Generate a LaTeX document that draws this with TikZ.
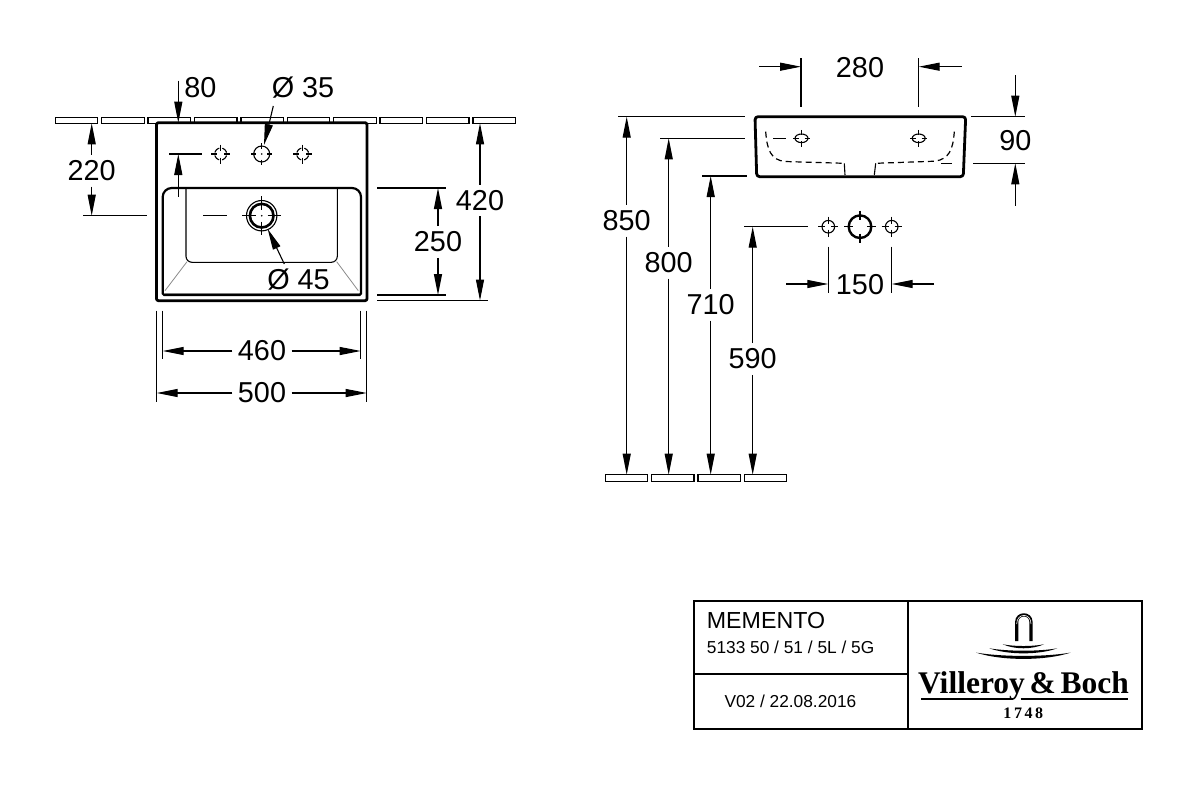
\documentclass[tikz,border=0pt]{standalone}
\usepackage{fontspec}
\setmainfont{Liberation Sans}
\newfontfamily\logofont[WordSpace=0.6]{Liberation Serif}
\newfontfamily\yearfont[LetterSpace=16]{Liberation Serif}
\usetikzlibrary{arrows.meta}
\newcommand{\dimfont}{\fontsize{28.8}{30}\selectfont}

\tikzset{
	thinline/.style={line width=1.1pt},
	thickline/.style={line width=2.8pt, line join=round},
	rimline/.style={line width=2.2pt},
	greyline/.style={line width=0.8pt, black!45},
	dashline/.style={line width=1.2pt, dash pattern=on 6pt off 4pt},
	tile/.style={line width=1.3pt, fill=white},
	dimarrow/.style={line width=1.1pt, -{Triangle[length=21pt,width=8pt]}},
	dimlabel/.style={inner sep=5.5pt, font=\dimfont},
	titletext/.style={anchor=west, inner sep=0pt, font=\fontsize{17.3}{19}\selectfont},
	pics/crossmark/.style n args={2}{code={
		\draw[thinline] (-#2,0) -- (-#1,0) (#1,0) -- (#2,0) (0,-#2) -- (0,-#1) (0,#1) -- (0,#2);
	}},
}

\begin{document}
\begin{tikzpicture}[x=1pt,y=-1pt]
	\useasboundingbox (0,0) rectangle (1200,787);

	% wall above the basin
	\draw[tile] (55.3,117.3) rectangle (97.8,123.3);
	\draw[tile] (101.7,117.3) rectangle (144.2,123.3);
	\draw[tile] (148.1,117.3) rectangle (190.6,123.3);
	\draw[tile] (194.5,117.3) rectangle (237,123.3);
	\draw[tile] (240.9,117.3) rectangle (283.4,123.3);
	\draw[tile] (287.3,117.3) rectangle (329.8,123.3);
	\draw[tile] (333.7,117.3) rectangle (376.2,123.3);
	\draw[tile] (380.1,117.3) rectangle (422.6,123.3);
	\draw[tile] (426.5,117.3) rectangle (469,123.3);
	\draw[tile] (472.9,117.3) rectangle (515.4,123.3);

	% basin seen from above
	\draw[thickline, fill=white, rounded corners=2pt] (156.5,122.7) rectangle (367,300.7);
	\draw[greyline] (165,293) -- (358.5,293);
	\draw[greyline] (187,261.7) -- (165,290.7);
	\draw[greyline] (336.7,261.7) -- (358.3,290.7);
	\draw[rimline] (162.7,295) [rounded corners=1.5pt] -- (361,295) [rounded corners=9pt] -- (361,188) -- (162.7,188) [rounded corners=1.5pt] -- cycle;
	\draw[thinline, rounded corners=6pt] (186,189) -- (186,262.3) -- (337.3,262.3) -- (337.3,189);

	\draw[thinline, dash pattern=on 6.4pt off 3pt, dash phase=7.9pt] (220.7,154) circle[radius=6];
	\pic at (220.7,154) {crossmark={3.5}{9.5}};
	\draw[thinline] (261.7,154) circle[radius=8];
	\pic at (261.7,154) {crossmark={5.5}{10.7}};
	\fill (261.7,154) circle[radius=0.9];
	\draw[thinline, dash pattern=on 6.4pt off 3pt, dash phase=7.9pt] (302.7,154) circle[radius=6];
	\pic at (302.7,154) {crossmark={3.5}{9.5}};

	\draw[thinline] (261.7,215.7) circle[radius=15.2];
	\draw[line width=2.6pt] (261.7,215.7) circle[radius=11.8];
	\pic at (261.7,215.7) {crossmark={6}{19.5}};
	\fill (261.7,215.7) circle[radius=0.9];

	% side of the basin
	\draw[thickline, rounded corners=3pt] (755,116.7) -- (965.7,116.7) -- (963.3,176.7) -- (756.7,176.7) -- cycle;
	\draw[dashline] (765.7,131.7) .. controls (767,150) and (771,160) .. (785,161.5) -- (844.3,163.3);
	\draw[dashline] (954.3,131.7) .. controls (953,150) and (949,159) .. (935,161.2) -- (875.7,163.3);
	\draw[thinline] (844.3,163.3) -- (845,175);
	\draw[thinline] (875.7,163.3) -- (874.3,175);
	\draw[thinline] (773,138.3) -- (786,138.3);
	\draw[thinline] (941,163.3) -- (952.3,163.3);
	\draw[thinline] (801.5,138.3) ellipse[x radius=6.5, y radius=4.3];
	\pic at (801.5,138.3) {crossmark={3}{8.5}};
	\draw[thinline] (918.7,138.3) ellipse[x radius=6.5, y radius=4.3];
	\pic at (918.7,138.3) {crossmark={3}{8.5}};

	% holes in the wall
	\draw[thinline] (828.3,226.7) circle[radius=6.3];
	\pic at (828.3,226.7) {crossmark={3}{10}};
	\draw[line width=2.4pt] (860,226.7) circle[radius=11.3];
	\pic at (860,226.7) {crossmark={7}{16}};
	\draw[thinline] (891.7,226.7) circle[radius=6.3];
	\pic at (891.7,226.7) {crossmark={3}{10}};

	% floor
	\draw[tile] (605.7,474.7) rectangle (647.7,481.3);
	\draw[tile] (651.7,474.7) rectangle (694,481.3);
	\draw[tile] (698,474.7) rectangle (740.3,481.3);
	\draw[tile] (744.3,474.7) rectangle (786.7,481.3);

	% extension lines
	\draw[thinline] (169.3,154) -- (201.7,154);
	\draw[thinline] (203.3,215.7) -- (226.7,215.7);
	\draw[thinline] (83.3,215.7) -- (146.7,215.7);
	\draw[thinline] (377,188) -- (446,188);
	\draw[thinline] (377,295) -- (446,295);
	\draw[thinline] (377,300.5) -- (488,300.5);
	\draw[thinline] (156.7,310.7) -- (156.7,401.7);
	\draw[thinline] (366.7,310.7) -- (366.7,401.7);
	\draw[thinline] (162.7,310.7) -- (162.7,359.3);
	\draw[thinline] (360.7,310.7) -- (360.7,359.3);
	\draw[thinline] (618.3,116.7) -- (745,116.7);
	\draw[thinline] (660,138.3) -- (745,138.3);
	\draw[thinline] (702,176) -- (746.7,176);
	\draw[thinline] (744,226.7) -- (808,226.7);
	\draw[thinline] (801,58.3) -- (801,106.7);
	\draw[thinline] (918.7,58.3) -- (918.7,106.7);
	\draw[thinline] (971,116.7) -- (1025,116.7);
	\draw[thinline] (973.3,163.3) -- (1025,163.3);
	\draw[thinline] (828.3,246.7) -- (828.3,292.7);
	\draw[thinline] (891.7,246.7) -- (891.7,292.7);

	% labels
	\node[dimlabel] (lbl80) at (200.5,87.3) {80};
	\node[dimlabel] (lblhole) at (303,87.3) {Ø 35};
	\node[dimlabel] (lbldrain) at (298.5,280) {Ø 45};
	\node[dimlabel] (lbl220) at (91.7,170.7) {220};
	\node[dimlabel] (lbl420) at (480,200.5) {420};
	\node[dimlabel] (lbl250) at (438,242) {250};
	\node[dimlabel] (lbl460) at (262,351) {460};
	\node[dimlabel] (lbl500) at (262,393) {500};
	\node[dimlabel] (lbl280) at (860,67.8) {280};
	\node[dimlabel] (lbl90) at (1015.3,140.7) {90};
	\node[dimlabel] (lbl150) at (860,285) {150};
	\node[dimlabel] (lbl850) at (626.7,220.7) {850};
	\node[dimlabel] (lbl800) at (668.7,262.7) {800};
	\node[dimlabel] (lbl710) at (710.7,304.7) {710};
	\node[dimlabel] (lbl590) at (752.7,359) {590};

	% dimension arrows
	\coordinate (t80a) at (178.3,80.7);
	\coordinate (t80b) at (178.3,122.7);
	\coordinate (tapa) at (178.3,196.7);
	\coordinate (tapb) at (178.3,154);
	\coordinate (holea) at (273.3,106);
	\coordinate (holeb) at (264,145);
	\coordinate (draina) at (284.3,264);
	\coordinate (drainb) at (267.7,229);
	\draw[dimarrow] (t80a) -- (t80b);
	\draw[dimarrow] (tapa) -- (tapb);
	\draw[dimarrow] (holea) -- (holeb);
	\draw[dimarrow] (draina) -- (drainb);

	\coordinate (w220) at (91.7,123.3);
	\coordinate (d220) at (91.7,215.7);
	\draw[dimarrow] (lbl220) -- (w220);
	\draw[dimarrow] (lbl220) -- (d220);
	\coordinate (w420) at (480,123.3);
	\coordinate (d420) at (480,300.5);
	\draw[dimarrow] (lbl420) -- (w420);
	\draw[dimarrow] (lbl420) -- (d420);
	\coordinate (w250) at (438,188);
	\coordinate (d250) at (438,295);
	\draw[dimarrow] (lbl250) -- (w250);
	\draw[dimarrow] (lbl250) -- (d250);
	\coordinate (l460) at (162.7,351);
	\coordinate (r460) at (360.7,351);
	\draw[dimarrow] (lbl460) -- (l460);
	\draw[dimarrow] (lbl460) -- (r460);
	\coordinate (l500) at (156.7,393);
	\coordinate (r500) at (366.7,393);
	\draw[dimarrow] (lbl500) -- (l500);
	\draw[dimarrow] (lbl500) -- (r500);

	\coordinate (a280) at (759,66.7);
	\coordinate (b280) at (801,66.7);
	\coordinate (c280) at (961.7,66.7);
	\coordinate (d280) at (918.7,66.7);
	\draw[dimarrow] (a280) -- (b280);
	\draw[dimarrow] (c280) -- (d280);
	\coordinate (a90) at (1015.3,75);
	\coordinate (b90) at (1015.3,116.7);
	\coordinate (c90) at (1015.3,205.7);
	\coordinate (d90) at (1015.3,163.3);
	\draw[dimarrow] (a90) -- (b90);
	\draw[dimarrow] (c90) -- (d90);
	\coordinate (a150) at (786,284);
	\coordinate (b150) at (828.3,284);
	\coordinate (c150) at (934,284);
	\coordinate (d150) at (891.7,284);
	\draw[dimarrow] (a150) -- (b150);
	\draw[dimarrow] (c150) -- (d150);

	\coordinate (top850) at (626.7,116.7);
	\coordinate (low850) at (626.7,474.7);
	\draw[dimarrow] (lbl850) -- (top850);
	\draw[dimarrow] (lbl850) -- (low850);
	\coordinate (top800) at (668.7,138.3);
	\coordinate (low800) at (668.7,474.7);
	\draw[dimarrow] (lbl800) -- (top800);
	\draw[dimarrow] (lbl800) -- (low800);
	\coordinate (top710) at (710.7,176);
	\coordinate (low710) at (710.7,474.7);
	\draw[dimarrow] (lbl710) -- (top710);
	\draw[dimarrow] (lbl710) -- (low710);
	\coordinate (top590) at (752.7,226.7);
	\coordinate (low590) at (752.7,474.7);
	\draw[dimarrow] (lbl590) -- (top590);
	\draw[dimarrow] (lbl590) -- (low590);

	% title block
	\draw[rimline] (694.3,601) rectangle (1142.3,729);
	\draw[rimline] (908.3,601) -- (908.3,729);
	\draw[rimline] (694.3,674.3) -- (908.3,674.3);
	\node[titletext, font=\fontsize{23.2}{25}\selectfont] (series) at (706.7,620.7) {MEMENTO};
	\node[titletext] (article) at (706.7,647) {5133 50 / 51 / 5L / 5G};
	\node[titletext] (version) at (724.3,701) {V02 / 22.08.2016};

	% logo
	\draw[line width=3.2pt] (1016.7,641) -- (1016.7,622) .. controls (1016.7,612.5) and (1031,612.5) .. (1031,622) -- (1031,641);
	\draw[white, line width=0.6pt] (1016.7,624) .. controls (1016.7,612.5) and (1031,612.5) .. (1031,624);
	\fill (1002.7,644.3) .. controls (1015,646.6) and (1032,646.6) .. (1044,644.3) .. controls (1032,649.6) and (1015,649.6) .. (1002.7,644.3) -- cycle;
	\fill (989.3,648.3) .. controls (1008,651.5) and (1039,651.5) .. (1057.3,648.3) .. controls (1039,655) and (1008,655) .. (989.3,648.3) -- cycle;
	\fill (976,652.6) .. controls (1002,657) and (1045,657) .. (1070.7,652.6) .. controls (1045,661) and (1002,661) .. (976,652.6) -- cycle;
	\node[inner sep=0pt, anchor=base] (brand) at (1023.5,693) {\logofont\bfseries\fontsize{31.5}{33}\selectfont Villeroy \& Boch};
	\draw[rimline] (921,699.3) -- (1012.5,699.3);
	\draw[rimline] (1020.5,699.3) -- (1127.5,699.3);
	\node[inner sep=0pt] (year) at (1023.3,713.3) {\yearfont\bfseries\fontsize{16}{18}\selectfont 1748};
\end{tikzpicture}
\end{document}
